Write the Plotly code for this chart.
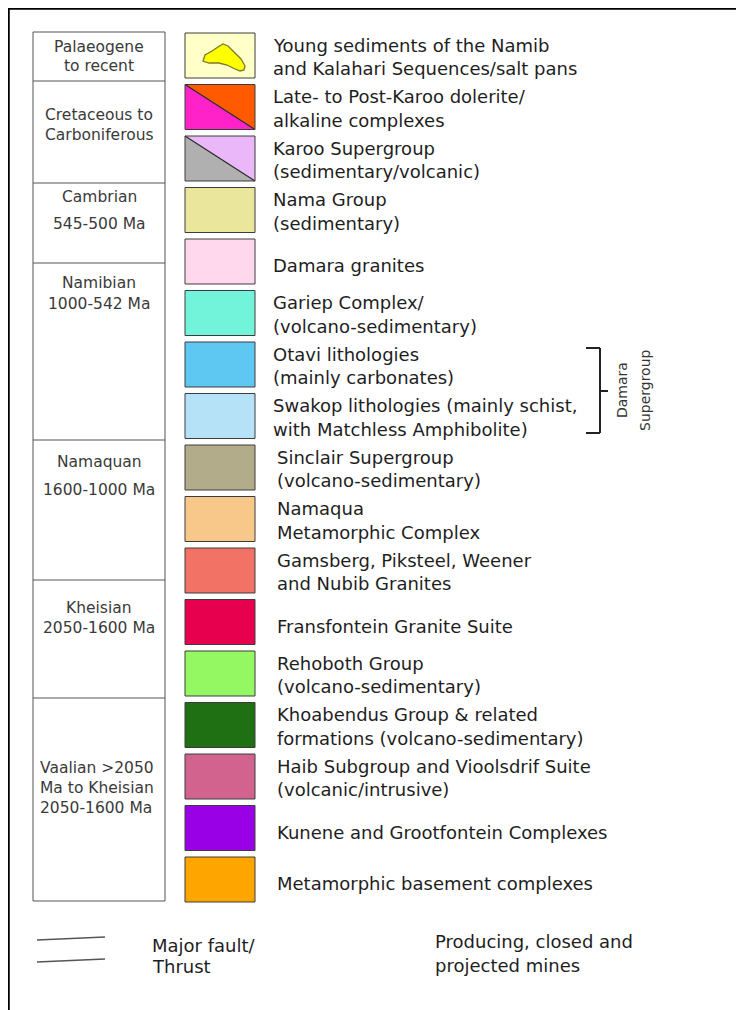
import plotly.graph_objects as go

# ---------------- data ----------------
PERIOD_LINES = [
    ["Palaeogene", "to recent"],
    ["Cretaceous to", "Carboniferous"],
    ["Cambrian", "545-500 Ma"],
    ["Namibian", "1000-542 Ma"],
    ["Namaquan", "1600-1000 Ma"],
    ["Kheisian", "2050-1600 Ma"],
    ["Vaalian >2050", "Ma to Kheisian", "2050-1600 Ma"],
]

UNIT_LINES = [
    ["Young sediments of the Namib", "and Kalahari Sequences/salt pans"],
    ["Late- to Post-Karoo dolerite/", "alkaline complexes"],
    ["Karoo Supergroup", "(sedimentary/volcanic)"],
    ["Nama Group", "(sedimentary)"],
    ["Damara granites"],
    ["Gariep Complex/", "(volcano-sedimentary)"],
    ["Otavi lithologies", "(mainly carbonates)"],
    ["Swakop lithologies (mainly schist,", "with Matchless Amphibolite)"],
    ["Sinclair Supergroup", "(volcano-sedimentary)"],
    ["Namaqua", "Metamorphic Complex"],
    ["Gamsberg, Piksteel, Weener", "and Nubib Granites"],
    ["Fransfontein Granite Suite"],
    ["Rehoboth Group", "(volcano-sedimentary)"],
    ["Khoabendus Group & related", "formations (volcano-sedimentary)"],
    ["Haib Subgroup and Vioolsdrif Suite", "(volcanic/intrusive)"],
    ["Kunene and Grootfontein Complexes"],
    ["Metamorphic basement complexes"],
]

UNIT_COLORS = [
    "#FFFFC8", "#FF22C8", "#B0B0B0", "#EAE69C", "#FFD8EE", "#72F4DA",
    "#5EC8F2", "#B6E2F8", "#B2AC8A", "#F8C88A", "#F27266", "#E6004E",
    "#94F862", "#1E7012", "#D2628E", "#9A00E6", "#FFA500",
]
UNIT_COLORS_UPPER = [None, "#FF5A00", "#EAB8F8"] + [None] * 14

BRACKET_LABEL = ["Damara", "Supergroup"]
BOTTOM_LEFT = ["Major fault/", "Thrust"]
BOTTOM_RIGHT = ["Producing, closed and", "projected mines"]

# ---------------- layout constants ----------------
W, H = 744, 1010
BODY = 8  # default page body margin
FONT = "DejaVu Sans"
TXT = "#1e1e1e"
GRID = "#555555"

TABLE_X0, TABLE_X1 = 33, 165
PERIOD_EDGES = [32, 81, 183, 263, 440, 580, 698, 901]
PERIOD_LINE_Y = [[47, 66], [115, 135], [197, 224], [283, 304],
                 [462, 490], [608, 628], [768, 788, 808]]

BOX_X0, BOX_X1 = 185, 255
BOX_TOP0, BOX_STEP, BOX_H = 33, 51.5, 45
LINE_GAP = 23.5
LABEL_SIZE = 18
PERIOD_SIZE = 15.5

fig = go.Figure()
shapes = []
annotations = []

# outer frame (left and top)
shapes.append(dict(type="line", x0=8.5, x1=8.5, y0=8, y1=H, line=dict(color="black", width=2.5)))
shapes.append(dict(type="line", x0=8, x1=W, y0=8.5, y1=8.5, line=dict(color="black", width=2.5)))

# period table
shapes.append(dict(type="rect", x0=TABLE_X0, x1=TABLE_X1, y0=PERIOD_EDGES[0], y1=PERIOD_EDGES[-1],
                   line=dict(color=GRID, width=1)))
for e in PERIOD_EDGES[1:-1]:
    shapes.append(dict(type="line", x0=TABLE_X0, x1=TABLE_X1, y0=e, y1=e, line=dict(color=GRID, width=1)))

for k, lines in enumerate(PERIOD_LINES):
    for j, t in enumerate(lines):
        if k == len(PERIOD_LINES) - 1:
            annotations.append(dict(x=38, y=PERIOD_LINE_Y[k][j], text=t, xanchor="left", yanchor="middle",
                                    showarrow=False, font=dict(family=FONT, size=PERIOD_SIZE, color="#3a3a3a")))
        else:
            annotations.append(dict(x=(TABLE_X0 + TABLE_X1) / 2, y=PERIOD_LINE_Y[k][j], text=t,
                                    xanchor="center", yanchor="middle", showarrow=False,
                                    font=dict(family=FONT, size=PERIOD_SIZE, color="#3a3a3a")))

# unit boxes
for i, (lines, col) in enumerate(zip(UNIT_LINES, UNIT_COLORS)):
    y0 = BOX_TOP0 + BOX_STEP * i
    y1 = y0 + BOX_H
    upper = UNIT_COLORS_UPPER[i]
    if upper is None:
        shapes.append(dict(type="rect", x0=BOX_X0, x1=BOX_X1, y0=y0, y1=y1, fillcolor=col,
                           line=dict(color="#3c3c3c", width=1)))
    else:
        shapes.append(dict(type="path",
                           path=f"M {BOX_X0},{y0} L {BOX_X0},{y1} L {BOX_X1},{y1} Z",
                           fillcolor=col, line=dict(width=0)))
        shapes.append(dict(type="path",
                           path=f"M {BOX_X0},{y0} L {BOX_X1},{y0} L {BOX_X1},{y1} Z",
                           fillcolor=upper, line=dict(width=0)))
        shapes.append(dict(type="line", x0=BOX_X0, y0=y0, x1=BOX_X1, y1=y1,
                           line=dict(color="#2a2a2a", width=1.2)))
        shapes.append(dict(type="rect", x0=BOX_X0, x1=BOX_X1, y0=y0, y1=y1,
                           line=dict(color="#3c3c3c", width=1)))
    # labels
    tx = 271 if i < 8 else 275
    cy = (y0 + y1) / 2 + (1.5 if len(lines) > 1 else 4)
    n = len(lines)
    for j, t in enumerate(lines):
        ly = cy + (j - (n - 1) / 2) * LINE_GAP
        annotations.append(dict(x=tx, y=ly, text=t, xanchor="left", yanchor="middle", showarrow=False,
                                font=dict(family=FONT, size=LABEL_SIZE, color=TXT)))

# salt-pan blob in first box
bx, by = BOX_X0, BOX_TOP0
blob = [(18, 28), (20, 22), (27, 18), (33, 14), (38, 11), (43, 13), (49, 19), (56, 26), (60, 33),
        (59, 37), (55, 38), (48, 35), (42, 32), (34, 30), (24, 30), (18, 28)]
path = "M " + " L ".join(f"{bx + px},{by + py}" for px, py in blob) + " Z"
shapes.append(dict(type="path", path=path, fillcolor="#FFFF00", line=dict(color="#7A7A28", width=1.3)))

# amphibolite squiggle in Swakop box
sy = BOX_TOP0 + BOX_STEP * 7
sq = [(10, 30), (13, 26), (20, 23), (28, 25), (37, 25), (45, 21), (52, 16), (60, 11)]
fig.add_trace(go.Scatter(x=[bx + p[0] for p in sq], y=[sy + p[1] for p in sq], mode="lines",
                         line=dict(color="#3d7a66", width=2, shape="spline"), hoverinfo="skip",
                         showlegend=False))

# Damara bracket
shapes.append(dict(type="line", x0=600, x1=600, y0=348, y1=433, line=dict(color="#222", width=2)))
shapes.append(dict(type="line", x0=586, x1=600, y0=348, y1=348, line=dict(color="#222", width=2)))
shapes.append(dict(type="line", x0=586, x1=600, y0=433, y1=433, line=dict(color="#222", width=2)))
shapes.append(dict(type="line", x0=600, x1=608, y0=391, y1=391, line=dict(color="#222", width=2)))
for j, t in enumerate(BRACKET_LABEL):
    annotations.append(dict(x=622 + 23 * j, y=390, text=t, textangle=-90, xanchor="center",
                            yanchor="middle", showarrow=False,
                            font=dict(family=FONT, size=14, color="#333")))

# bottom legend
shapes.append(dict(type="line", x0=37, x1=105, y0=940, y1=937, line=dict(color="#555", width=1.3)))
shapes.append(dict(type="line", x0=37, x1=105, y0=962, y1=959, line=dict(color="#555", width=1.3)))
for j, t in enumerate(BOTTOM_LEFT):
    annotations.append(dict(x=150, y=945 + 21 * j, text=t, xanchor="left", yanchor="middle",
                            showarrow=False, font=dict(family=FONT, size=LABEL_SIZE, color=TXT)))
for j, t in enumerate(BOTTOM_RIGHT):
    annotations.append(dict(x=433, y=941 + 24 * j, text=t, xanchor="left", yanchor="middle",
                            showarrow=False, font=dict(family=FONT, size=LABEL_SIZE, color=TXT)))

# figure placed after the page body margin; axis ranges offset so
# page pixel coordinates equal data coordinates
FW, FH = W - BODY, H - BODY
fig.update_layout(
    width=FW, height=FH, autosize=False,
    margin=dict(l=0, r=0, t=0, b=0, pad=0),
    paper_bgcolor="white", plot_bgcolor="white",
    xaxis=dict(range=[BODY, BODY + FW], visible=False, fixedrange=True),
    yaxis=dict(range=[BODY + FH, BODY], visible=False, fixedrange=True),
    shapes=shapes, annotations=annotations, showlegend=False,
)

fig.write_html("out.html")
